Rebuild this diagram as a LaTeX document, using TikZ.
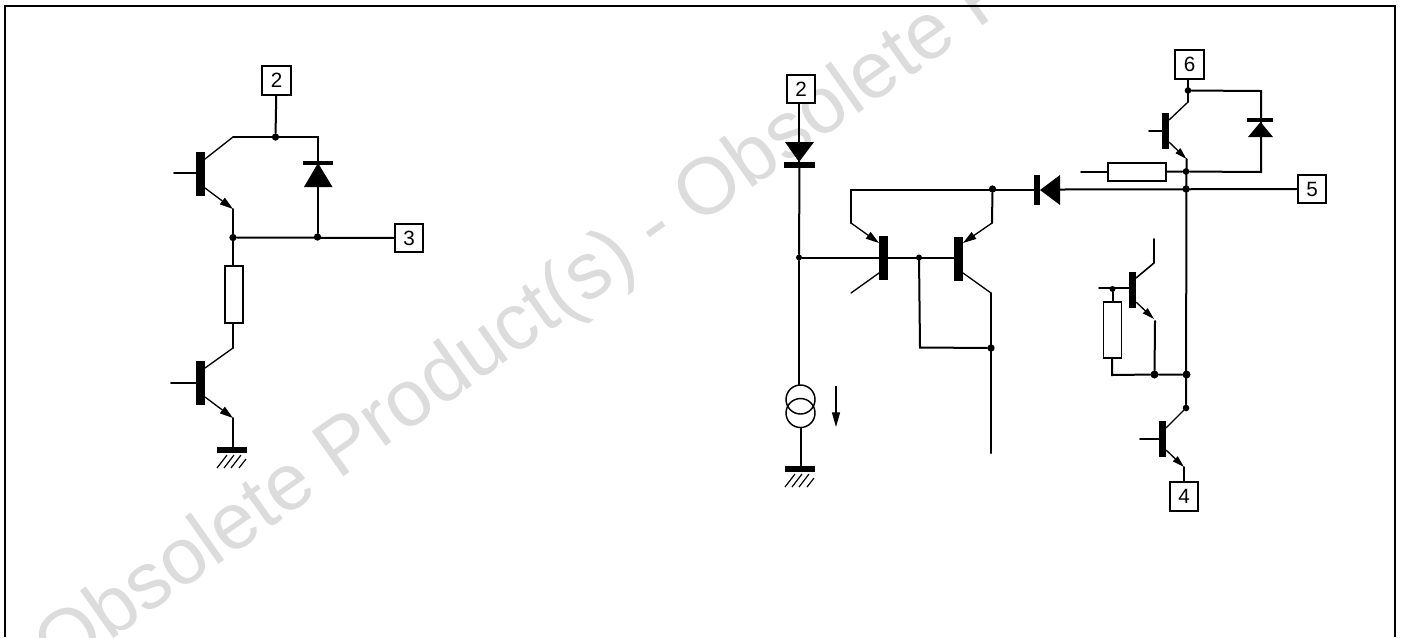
\documentclass[tikz,border=0pt]{standalone}
\usepackage{fontspec}
\setmainfont{Liberation Sans}
\usetikzlibrary{arrows.meta}
\definecolor{wmgray}{HTML}{DCDCDC}
\tikzset{
  x=0.75pt,y=-0.75pt,
  wire/.style={line width=1.5pt,line cap=round,line join=miter},
  thin wire/.style={line width=1pt,line cap=round},
  emit/.style={line width=1pt,-{Triangle[length=10pt,width=6pt]}},
  pin/.style={draw,line width=1.5pt,fill=white,inner sep=0pt,minimum width=21.5pt,minimum height=21.5pt,font=\fontsize{15.5}{15.5}\selectfont},
  dot/.style={circle,fill=black,inner sep=0pt,minimum size=5.5pt},
  smalldot/.style={circle,fill=black,inner sep=0pt,minimum size=4.5pt},
  tbar/.style={fill=black,inner sep=0pt,minimum width=#1,minimum height=33pt},
  tbar/.default=6.75pt,
  sbar/.style={fill=black,inner sep=0pt,minimum width=5.25pt,minimum height=27pt},
  resv/.style={draw,line width=1.3pt,inner sep=0pt,minimum width=13.5pt,minimum height=42.5pt},
  resh/.style={draw,line width=1.3pt,inner sep=0pt,minimum width=43pt,minimum height=13.5pt},
  gndbar/.style={fill=black,inner sep=0pt,minimum width=22.5pt,minimum height=4.5pt},
  hatch/.style={line width=0.9pt},
  csrc/.style={draw,circle,line width=1.1pt,inner sep=0pt,minimum size=21.75pt},
  watermark/.style={text=wmgray,font=\fontsize{60}{60}\selectfont,inner sep=0pt},
}
\newcommand{\gndhatch}[1]{%
  \foreach \i in {-11.25pt,-6pt,-0.75pt}{
    \draw[hatch] ([xshift=\i,yshift=-13.5pt]#1.center) -- ++(10,-13);
  }
  \draw[hatch] ([xshift=5.25pt,yshift=-13.5pt]#1.center) -- ++(7,-9);
}
\begin{document}
\begin{tikzpicture}
\clip (0,0) rectangle (1401,637);
\path[fill=white] (0,0) rectangle (1401,637);
\node[watermark,rotate=35.2,anchor=base west] (wm) at (58.4,677.6) {Obsolete Product(s) - Obsolete Product(s)};
% frame
\coordinate (fbl) at (5,637);
\coordinate (ftl) at (5,6);
\coordinate (ftr) at (1395,6);
\coordinate (fbr) at (1395,637);
\draw[line width=1.6pt] (fbl) -- (ftl) -- (ftr) -- (fbr);

% ---------- left circuit
\node[pin] (L2) at (276.5,80.5) {2};
\node[pin] (L3) at (409,238) {3};
\node[dot] (Ld1) at (275.5,137) {};
\node[dot] (Ld2) at (233,237.5) {};
\node[dot] (Ld3) at (317.5,237) {};
\coordinate (Lc1) at (233,137);
\coordinate (Lr1) at (317.5,137);
\draw[wire] (L2) -- (Ld1);
\draw[wire] (Lc1) -- (Lr1) -- (Ld3);
\draw[wire] (Ld2) -- (L3);
% diode
\coordinate (LdA) at (318,187);
\coordinate (LdK) at (318,163);
\path[fill=black] (304,187) -- (332.5,187) -- (LdK) -- cycle;
\node[fill=black,inner sep=0pt,minimum width=22pt,minimum height=3.5pt] (Ldb) at (LdK) {};
% T1
\node[tbar] (Lt1) at (200.5,174) {};
\coordinate (Lt1b) at (174,173);
\coordinate (Lt1c) at (205,159);
\coordinate (Lt1e) at (205,188);
\coordinate (Le1) at (233,209);
\draw[wire] (Lt1b) -- (Lt1.west |- Lt1b);
\draw[thin wire] (Lt1c) -- (Lc1);
\draw[emit] (Lt1e) -- (Le1);
\draw[wire] (Le1) -- (Ld2);
% R
\node[resv] (Lr) at (234,294.5) {};
\coordinate (Lc2) at (233,348);
\draw[wire] (Ld2) -- (Ld2 |- Lr.north);
\draw[wire] (Lc2 |- Lr.south) -- (Lc2);
% T2
\node[tbar] (Lt2) at (200.5,382.5) {};
\coordinate (Lt2b) at (171,383);
\coordinate (Lt2c) at (205,368);
\coordinate (Lt2e) at (205,397);
\coordinate (Le2) at (233,418);
\draw[wire] (Lt2b) -- (Lt2.west |- Lt2b);
\draw[thin wire] (Lt2c) -- (Lc2);
\draw[emit] (Lt2e) -- (Le2);
\node[gndbar] (Lg) at (232,450) {};
\draw[wire] (Le2) -- (Le2 |- Lg.north);
\gndhatch{Lg}

% ---------- right circuit
\node[pin] (R2) at (801,89) {2};
\node[dot,minimum size=4.5pt] (Rd1) at (799,257.5) {};
\coordinate (RdK) at (799,162);
\path[fill=black] (785,142) -- (814,142) -- (RdK) -- cycle;
\node[fill=black,inner sep=0pt,minimum width=23pt,minimum height=4.5pt] (Rdb) at (799.5,165) {};
\draw[wire] (R2.south -| Rd1) -- (RdK);
\draw[wire] (Rdb) -- (Rd1);
\node[csrc] (Cs1) at (800.5,399.5) {};
\node[csrc] (Cs2) at (800.5,413) {};
\draw[wire] (Rd1) -- (Rd1 |- Cs1.north);
\node[gndbar] (Rg) at (800,469) {};
\draw[wire] (Cs2.south) -- (Cs2.south |- Rg.north);
\gndhatch{Rg}
\coordinate (Cu1) at (836,386);
\coordinate (Cu2) at (836,427);
\draw[line width=1.1pt,-{Triangle[length=11pt,width=6pt]}] (Cu1) -- (Cu2);
% T3 and T4
\node[tbar] (T3) at (883.5,258) {};
\node[tbar] (T4) at (958.5,258.5) {};
\node[smalldot] (Rd2) at (919,257.5) {};
\draw[wire] (Rd1) -- (T3.west |- Rd1);
\draw[wire] (T3.east |- Rd1) -- (T4.west |- Rd1);
\node[dot] (Rd3) at (991,348) {};
\coordinate (Rn1) at (920,347.5);
\draw[wire] (Rd2.center) -- (Rn1) -- (Rd3);
\coordinate (T4cE) at (991,293);
\coordinate (Rend) at (991,453);
\draw[wire] (T4cE) -- (Rend);
\coordinate (T4c) at (963,273);
\draw[thin wire] (T4c) -- (T4cE);
\coordinate (T3c) at (879,273);
\coordinate (T3cE) at (851,293);
\draw[thin wire] (T3c) -- (T3cE);
\coordinate (T3e) at (851,223);
\coordinate (T3h) at (851,189.5);
\coordinate (T3t) at (879,243);
\draw[emit] (T3e) -- (T3t);
\node[dot] (Rd4) at (992.5,189) {};
\coordinate (T4e) at (992,223);
\coordinate (T4t) at (963,243);
\draw[emit] (T4e) -- (T4t);
\draw[wire] (Rd4) -- (T4e);
\node[fill=black,inner sep=0pt,minimum width=4.5pt,minimum height=23pt] (Dhb) at (1037,190) {};
\draw[wire] (T3e) -- (T3h) -- (Dhb.west |- T3h);
\node[pin] (R5) at (1312,189) {5};
\node[pin] (R6) at (1189.5,64.5) {6};
\node[pin] (R4) at (1184,496.5) {4};
\coordinate (DhA) at (1040,190);
\path[fill=black] (1060,175) -- (1060,205) -- (DhA) -- cycle;
\node[dot] (Rd5) at (1186,189) {};
\draw[wire] (1060,189.5) -- (R5);
% T5
\node[dot,minimum size=5pt] (Rd6) at (1188,90.5) {};
\node[dot,minimum size=5pt] (Rd7) at (1186,171.5) {};
\coordinate (T5cE) at (1188,102);
\coordinate (Rtr) at (1261,91);
\coordinate (Rbr) at (1261,172);
\draw[wire] (R6.south -| Rd6) -- (T5cE);
\draw[wire] (Rd6) -- (Rtr) -- (Rbr) -- (Rd7);
\coordinate (D5k) at (1260.5,122);
\path[fill=black] (1248,137) -- (1273,137) -- (D5k) -- cycle;
\node[fill=black,inner sep=0pt,minimum width=19.5pt,minimum height=3pt] (D5b) at (1260,120) {};
\node[sbar] (T5) at (1165.5,131) {};
\coordinate (T5b) at (1149,131);
\coordinate (T5c) at (1169,120);
\coordinate (T5e) at (1169,142);
\coordinate (T5eE) at (1186.5,159);
\draw[wire] (T5b) -- (T5.west |- T5b);
\draw[thin wire] (T5c) -- (T5cE);
\draw[emit,-{Triangle[length=9pt,width=5pt]}] (T5e) -- (T5eE);
\node[resh] (R2h) at (1137,172) {};
\coordinate (R2hL) at (1081,172);
\draw[wire] (R2hL) -- (R2h);
\draw[wire] (R2h) -- (Rd7);
% main vertical
\node[dot,minimum size=6pt] (Rd8) at (1186.5,374.5) {};
\node[dot,minimum size=5pt] (Rd9) at (1186,408) {};
\draw[wire] (T5eE) -- (Rd9);
% T6
\node[sbar] (T6) at (1132.5,290) {};
\node[smalldot] (Rd10) at (1112.5,289) {};
\coordinate (T6b) at (1099,288);
\draw[wire] (T6b) -- (T6.west |- T6b);
\node[resv] (R3v) at (1112.5,330) {};
\coordinate (Rbl) at (1112,375);
\node[dot,minimum size=6pt] (Rd11) at (1154.5,374.5) {};
\draw[wire] (Rd10) -- (R3v);
\draw[wire] (R3v) -- (Rbl) -- (Rd11) -- (Rd8);
\coordinate (T6c) at (1136,278);
\coordinate (T6cE) at (1154,263);
\coordinate (T6cT) at (1154,239);
\draw[wire,line width=1.2pt] (T6c) -- (T6cE) -- (T6cT);
\coordinate (T6e) at (1136,302);
\coordinate (T6eE) at (1154,319);
\draw[emit,-{Triangle[length=9pt,width=5pt]}] (T6e) -- (T6eE);
\draw[wire] (1155,321) -- (Rd11);
% T7
\node[sbar] (T7) at (1162.5,439) {};
\coordinate (T7b) at (1140,439);
\draw[wire] (T7b) -- (T7.west |- T7b);
\coordinate (T7c) at (1166,428);
\draw[thin wire] (T7c) -- (Rd9);
\coordinate (T7e) at (1166,450);
\coordinate (T7eE) at (1184,467);
\draw[emit,-{Triangle[length=9pt,width=5pt]}] (T7e) -- (T7eE);
\draw[wire] (T7eE) -- (T7eE |- R4.north);
\end{tikzpicture}
\end{document}
